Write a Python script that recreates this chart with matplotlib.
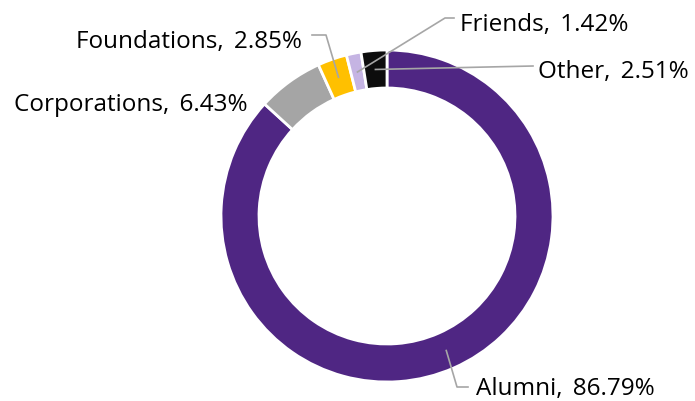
import numpy as np
import matplotlib.pyplot as plt

# share of giving by source
sources = ['Alumni', 'Corporations', 'Foundations', 'Friends', 'Other']
shares = [86.79, 6.43, 2.85, 1.42, 2.51]
colors = ['#4F2683', '#A5A5A5', '#FFC000', '#C5B4E3', '#0D0D0D']

plt.rcParams['font.family'] = ['Open Sans', 'DejaVu Sans']

W, H = 695, 402
fig = plt.figure(figsize=(W / 100, H / 100), dpi=100)
ax = fig.add_axes([0, 0, 1, 1])

cx, cy = 387, H - 217
R, ring = 166, 38
ax.pie(shares, colors=colors, center=(cx, cy), radius=R, startangle=90,
       counterclock=False, frame=True,
       wedgeprops=dict(width=ring, edgecolor='white', linewidth=2))
ax.set_xlim(0, W)
ax.set_ylim(0, H)
ax.set_aspect('equal')
ax.axis('off')

# label layout: (text x, baseline y, ha, elbow points for leader or None)
layout = {
    'Alumni': (476, 395, 'left', [(457, 388), (468, 388)]),
    'Corporations': (248, 111, 'right', None),
    'Foundations': (302, 48, 'right', [(326, 36), (312, 36)]),
    'Friends': (460, 31, 'left', [(445, 19), (454, 19)]),
    'Other': (538, 78, 'left', [(533, 67)]),
}

cum = np.cumsum([0] + shares)
total = cum[-1]
for i, name in enumerate(sources):
    tx, ty, ha, elbow = layout[name]
    ax.text(tx, H - ty, f'{name},\u2009 {shares[i]:.2f}%', ha=ha, va='baseline',
            fontsize=17.5, color='#000000')
    if elbow:
        mid = (cum[i] + cum[i + 1]) / 2 / total * 2 * np.pi
        rr = R - ring / 2
        px, py = cx + rr * np.sin(mid), cy + rr * np.cos(mid)
        xs = [px] + [e[0] for e in elbow]
        ys = [py] + [H - e[1] for e in elbow]
        ax.plot(xs, ys, color='#A6A6A6', lw=1.2)

fig.savefig('out.png', dpi=100)
